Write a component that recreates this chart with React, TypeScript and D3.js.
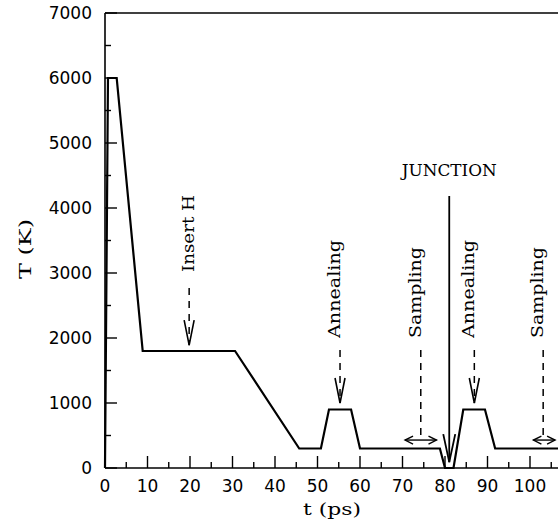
import React from "react";
import * as d3 from "d3";

// temperature profile (t in ps, T in K)
const timePs = [0, 0.7, 2.75, 8.87, 30.6, 45.7, 50.8, 52.7, 57.9, 60.0, 78.8, 80.0, 82.0, 84.3, 89.4, 91.8, 110];
const tempK = [0, 6000, 6000, 1800, 1800, 300, 300, 900, 900, 300, 300, 0, 0, 900, 900, 300, 300];

const xTicks = [0, 10, 20, 30, 40, 50, 60, 70, 80, 90, 100];
const yTicks = [0, 1000, 2000, 3000, 4000, 5000, 6000, 7000];

// vertical annotations (label, x in ps, text start T, dash start T, arrow tip T)
const annLabels = ["Insert H", "Annealing", "Sampling", "Annealing", "Sampling"];
const annX = [19.8, 55.3, 74.3, 86.9, 103.1];
const annTextT = [3015, 2000, 2000, 2000, 2000];
const annTextLen = [77, 98, 91, 98, 91];
const annDashTopT = [2770, 1815, 1815, 1815, 1815];
const annTipT = [1890, 1000, 430, 1000, 430];
const annHasHead = [true, true, false, true, false];

// sampling windows (ps)
const sampStart = [70.6, 100.8];
const sampEnd = [78.0, 105.9];
const sampT = 430;

const junctionX = 81.0;
const junctionTopT = 4185;
const junctionTipT = 90;

export default function App() {
  const W = 558, H = 522;
  const x = d3.scaleLinear().domain([0, 110]).range([105, 572.5]);
  const y = d3.scaleLinear().domain([0, 7000]).range([468, 13]);
  const pts: [number, number][] = timePs.map((t, i) => [t, tempK[i]]);
  const line = d3.line<[number, number]>().x(d => x(d[0])).y(d => y(d[1]));

  const xMinor = d3.range(0, 111, 5);
  const yMinor = d3.range(0, 7001, 500);
  const serif = "'DejaVu Serif', serif";
  const sans = "'DejaVu Sans', sans-serif";

  const downHead = (cx: number, cy: number, len: number, hw: number) =>
    `M${cx - hw},${cy - len}L${cx},${cy}L${cx + hw},${cy - len}`;

  return (
    <svg width={W} height={H} style={{ position: "absolute", left: 0, top: 0, background: "#fff" }}>
      <rect x={0} y={0} width={W} height={H} fill="#fff" />
      {/* frame */}
      <g stroke="#000" strokeWidth={1.6} fill="none">
        <line x1={x(0)} x2={x(110)} y1={y(7000)} y2={y(7000)} />
        <line x1={x(0)} x2={x(110)} y1={y(0)} y2={y(0)} />
        <line x1={x(0)} x2={x(0)} y1={y(0)} y2={y(7000)} />
        <line x1={x(110)} x2={x(110)} y1={y(0)} y2={y(7000)} />
      </g>
      {/* ticks */}
      <g stroke="#000" strokeWidth={1.4}>
        {xMinor.map(v => (
          <line key={"xm" + v} x1={x(v)} x2={x(v)} y1={y(0)} y2={y(0) - (v % 10 === 0 ? 12 : 6)} />
        ))}
        {yMinor.map(v => (
          <line key={"ym" + v} x1={x(0)} x2={x(0) + (v % 1000 === 0 ? 12 : 6)} y1={y(v)} y2={y(v)} />
        ))}
      </g>
      <g fontFamily={sans} fontSize={17} fill="#000">
        {xTicks.map(v => (
          <text key={"xl" + v} x={x(v)} y={492} textAnchor="middle">{v}</text>
        ))}
        {yTicks.map(v => (
          <text key={"yl" + v} x={92} y={y(v) + 6} textAnchor="end">{v}</text>
        ))}
      </g>
      <text x={332} y={515} textAnchor="middle" fontFamily={serif} fontSize={16} textLength={58} lengthAdjust="spacingAndGlyphs">t (ps)</text>
      <text transform={`translate(31,249) rotate(-90)`} textAnchor="middle" fontFamily={serif} fontSize={16} textLength={60} lengthAdjust="spacingAndGlyphs">T (K)</text>

      {/* data */}
      <path d={line(pts) || ""} fill="none" stroke="#000" strokeWidth={2.2} strokeLinejoin="miter" />

      {/* vertical annotations */}
      {annLabels.map((lab, i) => {
        const cx = x(annX[i]);
        return (
          <g key={"ann" + i}>
            <text transform={`translate(${cx + (i === 0 ? 5 : 0)},${y(annTextT[i])}) rotate(-90)`} fontFamily={serif} fontSize={16} textLength={annTextLen[i]} lengthAdjust="spacingAndGlyphs">{lab}</text>
            <line x1={cx} x2={cx} y1={y(annDashTopT[i])} y2={y(annTipT[i])} stroke="#000" strokeWidth={1.5} strokeDasharray="7,6" />
            {annHasHead[i] && (
              <path d={downHead(cx, y(annTipT[i]), 25, 5)} fill="none" stroke="#000" strokeWidth={1.6} />
            )}
          </g>
        );
      })}

      {/* sampling windows */}
      {sampStart.map((s, i) => {
        const x1 = x(s), x2 = x(sampEnd[i]), yy = y(sampT);
        return (
          <g key={"s" + i} stroke="#000" strokeWidth={1.4} fill="none">
            <line x1={x1} x2={x2} y1={yy} y2={yy} />
            <path d={`M${x1 + 8},${yy - 4}L${x1},${yy}L${x1 + 8},${yy + 4}`} />
            <path d={`M${x2 - 8},${yy - 4}L${x2},${yy}L${x2 - 8},${yy + 4}`} />
          </g>
        );
      })}

      {/* junction */}
      <line x1={x(junctionX)} x2={x(junctionX)} y1={y(junctionTopT)} y2={y(junctionTipT)} stroke="#000" strokeWidth={1.8} />
      <path d={downHead(x(junctionX), y(junctionTipT), 28, 6)} fill="none" stroke="#000" strokeWidth={1.8} />
      <text x={x(junctionX)} y={176} textAnchor="middle" fontFamily={serif} fontSize={16.5} textLength={95} lengthAdjust="spacingAndGlyphs">JUNCTION</text>
    </svg>
  );
}
